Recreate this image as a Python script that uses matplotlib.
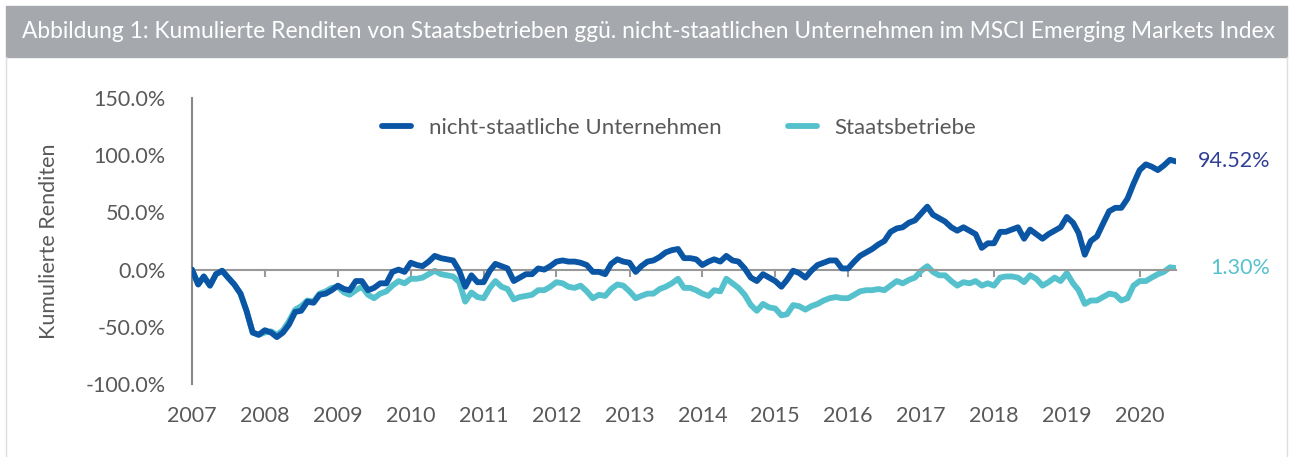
# -*- coding: utf-8 -*-
import numpy as np
import pandas as pd
import matplotlib
matplotlib.use('Agg')
import matplotlib.pyplot as plt
from matplotlib.patches import Rectangle
from matplotlib.lines import Line2D

# Monatswerte Jan 2007 - Jul 2020 (in %)
privat = [
    0, -13, -6, -14, -4, -1, -7, -13, -21, -36, -55, -57,        # 2007
    -53, -55, -59, -55, -48, -37, -36, -28, -29, -22, -21, -18,  # 2008
    -14, -17, -18, -10, -10, -18, -16, -12, -12, -2, 0, -2,      # 2009
    6, 4, 3, 7, 12, 10, 9, 8, -1, -15, -5, -11,                  # 2010
    -11, -1, 5, 3, 1, -10, -7, -4, -4, 1, 0, 3,                  # 2011
    7, 8, 7, 7, 6, 4, -2, -2, -4, 5, 9, 7,                       # 2012
    6, -2, 3, 7, 8, 11, 15, 17, 18, 10, 10, 9,                   # 2013
    4, 7, 9, 7, 12, 8, 7, 1, -7, -10, -4, -7,                    # 2014
    -10, -15, -9, -1, -3, -7, -1, 4, 6, 8, 8, 1,                 # 2015
    1, 7, 12, 15, 18, 22, 25, 33, 36, 37, 41, 43,                # 2016
    49, 55, 48, 45, 42, 37, 34, 37, 34, 31, 19, 23,              # 2017
    23, 33, 33, 35, 37, 27, 35, 31, 27, 31, 34, 37,              # 2018
    46, 41, 32, 13, 25, 29, 40, 51, 54, 54, 62, 75,              # 2019
    87, 92, 90, 87, 91, 96, 94.52,                               # 2020
]
staat = [
    0, -13, -6, -14, -4, -1, -7, -13, -21, -36, -55, -57,
    -55, -54, -57, -53, -45, -35, -32, -27, -28, -21, -19, -16,
    -15, -20, -22, -18, -15, -22, -25, -21, -19, -14, -10, -12,
    -8, -8, -7, -4, -1, -4, -5, -6, -11, -28, -20, -24,
    -25, -16, -10, -15, -17, -26, -24, -23, -22, -18, -18, -15,
    -11, -12, -15, -16, -14, -19, -25, -22, -23, -17, -13, -14,
    -19, -25, -23, -21, -21, -17, -15, -12, -8, -16, -16, -18,
    -21, -23, -18, -19, -8, -12, -16, -22, -31, -36, -30, -33,
    -34, -40, -39, -31, -32, -35, -32, -30, -27, -25, -24, -25,
    -25, -22, -19, -18, -18, -17, -18, -14, -10, -12, -9, -7,
    -1, 3, -2, -5, -5, -10, -14, -11, -12, -10, -14, -12,
    -14, -7, -6, -6, -7, -11, -5, -8, -14, -11, -7, -10,
    -3, -12, -18, -30, -27, -27, -24, -21, -22, -27, -25, -14,
    -10, -10, -7, -4, -2, 2, 1.30,
]
dates = pd.date_range('2007-01-01', periods=len(privat), freq='MS')
jahre = list(range(2007, 2021))
yticks = [-100, -50, 0, 50, 100, 150]

dunkel = '#0b55a5'
tuerkis = '#55c1cd'
grau_text = '#595959'

plt.rcParams['font.family'] = ['Lato', 'DejaVu Sans']

W, H = 1293, 457
fig = plt.figure(figsize=(W / 100, H / 100), dpi=100)

# Kopfzeile und Rahmen
fig.patches.append(Rectangle((6 / W, 1 - 57 / H), 1281 / W, 51 / H,
                             transform=fig.transFigure, color='#a5a8ad', zorder=0))
fig.text(22 / W, 1 - 31 / H,
         'Abbildung 1: Kumulierte Renditen von Staatsbetrieben ggü. nicht-staatlichen Unternehmen im MSCI Emerging Markets Index',
         color='white', fontsize=16.4, va='center', ha='left')
fig.lines.append(Line2D([6 / W, 6 / W], [0, 1 - 57 / H], transform=fig.transFigure,
                        color='#dddddd', lw=1))
fig.lines.append(Line2D([1287 / W, 1287 / W], [0, 1 - 57 / H], transform=fig.transFigure,
                        color='#dddddd', lw=1))

ax = fig.add_axes([192 / W, 1 - 384 / H, (1176 - 192) / W, (384 - 98) / H])
ax.plot(dates, privat, color=dunkel, lw=4.2, solid_capstyle='round',
        label='nicht-staatliche Unternehmen', zorder=3)
ax.plot(dates, staat, color=tuerkis, lw=4.2, solid_capstyle='round',
        label='Staatsbetriebe', zorder=2)

# x-Achse auf der Nulllinie
ax.spines['bottom'].set_position(('data', 0))
ax.spines['bottom'].set_color('#999999')
ax.spines['bottom'].set_linewidth(1.5)
ax.spines['left'].set_color('#888888')
ax.spines['left'].set_linewidth(1.5)
ax.spines['top'].set_visible(False)
ax.spines['right'].set_visible(False)

ax.set_ylim(-100, 150)
ax.set_xlim(dates[0], dates[-1])
ax.set_yticks(yticks)
ax.set_yticklabels([f'{v:.1f}%' for v in yticks])
ax.tick_params(axis='y', length=0, pad=19, labelsize=15.5, labelcolor=grau_text)

ax.set_xticks([pd.Timestamp(f'{j}-01-01') for j in jahre])
ax.set_xticklabels([str(j) for j in jahre])
ax.tick_params(axis='x', length=5, width=1.5, color='#999999', pad=93,
               labelsize=15.5, labelcolor=grau_text)

ax.set_ylabel('Kumulierte Renditen', color=grau_text, fontsize=15.5, labelpad=19)

ax.legend(loc='upper center', bbox_to_anchor=(0.495, 1.0), ncol=2, frameon=False,
          fontsize=16, handlelength=1.3, columnspacing=3.0, labelcolor=grau_text)

# Endwerte
ax.annotate(f'{privat[-1]:.2f}%', xy=(1.0, privat[-1]), xycoords=('axes fraction', 'data'),
            xytext=(94, 0), textcoords='offset pixels', ha='right', va='center',
            color='#2f3f97', fontsize=15.5)
ax.annotate(f'{staat[-1]:.2f}%', xy=(1.0, staat[-1]), xycoords=('axes fraction', 'data'),
            xytext=(94, 0), textcoords='offset pixels', ha='right', va='center',
            color=tuerkis, fontsize=15.5)

fig.savefig('out.png', dpi=100)
